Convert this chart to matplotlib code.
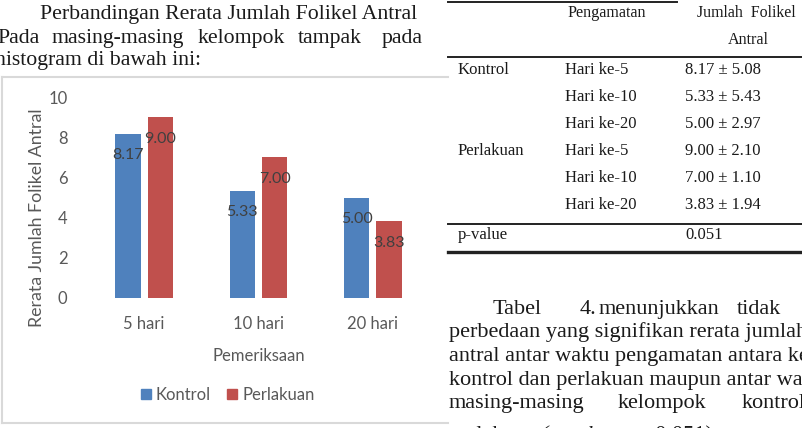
import numpy as np
import matplotlib.pyplot as plt
from matplotlib.lines import Line2D
from matplotlib.patches import Patch

# -------------------------------
# Data
# -------------------------------
categories = ["5 hari", "10 hari", "20 hari"]
kontrol = [8.17, 5.33, 5.00]
perlakuan = [9.00, 7.00, 3.83]
y_ticks = [0, 2, 4, 6, 8, 10]

tbl_group = ["Kontrol", "", "", "Perlakuan", "", ""]
tbl_day = ["Hari ke-5", "Hari ke-10", "Hari ke-20", "Hari ke-5", "Hari ke-10", "Hari ke-20"]
tbl_value = ["8.17 ± 5.08", "5.33 ± 5.43", "5.00 ± 2.97",
             "9.00 ± 2.10", "7.00 ± 1.10", "3.83 ± 1.94"]
p_value = "0.051"

BLUE = "#4F81BD"
RED = "#C0504D"
GRAY = "#595959"
INK = "#1a1a1a"
W, H = 803, 428

SERIF = "Liberation Serif"
SANS = "Lato"


def px(x, y):
    # page pixel -> figure fraction
    return x / W, 1 - y / H


fig = plt.figure(figsize=(W / 100, H / 100), dpi=100)


def page_text(x, y, s, size=15.7, **kw):
    kw.setdefault("family", SERIF)
    kw.setdefault("color", INK)
    fig.text(*px(x, y), s, fontsize=size, va="baseline", **kw)


def page_line(x0, x1, y0, y1, lw=1.4, color="#222222"):
    a, b = px(x0, y0)
    c, d = px(x1, y1)
    fig.add_artist(Line2D([a, c], [b, d], lw=lw, color=color, transform=fig.transFigure))


# -------------------------------
# Chart
# -------------------------------
ax = fig.add_axes([87 / W, 1 - 298 / H, 343 / W, 201 / H])
x = np.arange(len(categories))
bw = 0.22
off = 0.142
b1 = ax.bar(x - off, kontrol, bw, color=BLUE, label="Kontrol")
b2 = ax.bar(x + off, perlakuan, bw, color=RED, label="Perlakuan")

for bars, vals in [(b1, kontrol), (b2, perlakuan)]:
    for rect, v in zip(bars, vals):
        ax.annotate(f"{v:.2f}", (rect.get_x() + rect.get_width() / 2, v),
                    xytext=(0, -15.5), textcoords="offset points",
                    ha="center", va="center", fontsize=11.5,
                    family=SANS, color="#404040")

ax.set_xlim(-0.5, 2.5)
ax.set_ylim(0, 10)
ax.set_yticks(y_ticks)
ax.set_xticks(x)
ax.set_xticklabels(categories)
for s in ax.spines.values():
    s.set_visible(False)
ax.tick_params(length=0, labelsize=12, labelcolor=GRAY)
ax.tick_params(axis="x", pad=13)
ax.tick_params(axis="y", pad=14)
for lab in ax.get_xticklabels() + ax.get_yticklabels():
    lab.set_family(SANS)

ax.set_ylabel("Rerata Jumlah Folikel Antral", fontsize=12.8, color=GRAY,
              family=SANS, va="center")
ax.yaxis.set_label_coords(-0.146, 0.40)
ax.set_xlabel("Pemeriksaan", fontsize=12, color=GRAY, family=SANS, va="center")
ax.xaxis.set_label_coords(0.5, -0.289)

handles = [Patch(color=BLUE), Patch(color=RED)]
ax.legend(handles, ["Kontrol", "Perlakuan"], loc="center", bbox_to_anchor=(0.41, -0.483),
          ncol=2, frameon=False, handlelength=0.6, handleheight=0.6,
          handletextpad=0.3, columnspacing=1.0,
          prop={"family": SANS, "size": 12}, labelcolor=GRAY)

# chart frame
page_line(2, 448, 77, 77, lw=1.5, color="#d9d9d9")
page_line(2, 448, 423, 423, lw=1.5, color="#d9d9d9")
page_line(2, 2, 77, 423, lw=1.5, color="#d9d9d9")

# -------------------------------
# Page text (left)
# -------------------------------
page_text(40, 19, "Perbandingan Rerata Jumlah Folikel Antral")
for wx, w in [(-3, "Pada"), (52, "masing-masing"), (198, "kelompok"),
              (298, "tampak"), (382, "pada")]:
    page_text(wx, 43, w)
page_text(-5, 65, "histogram di bawah ini:")

# -------------------------------
# Table (right)
# -------------------------------
page_line(448, 677, 2, 2)
page_line(448, 803, 57, 57)
page_line(448, 803, 224, 224)
page_line(448, 803, 252, 252, lw=2.4)

page_text(607, 17, "Pengamatan", size=11.6, ha="center")
page_text(697, 17, "Jumlah  Folikel", size=11.4)
page_text(748, 44, "Antral", size=11.6, ha="center")

row_y = [74, 101, 128, 155, 182, 209]
for ry, g, d, v in zip(row_y, tbl_group, tbl_day, tbl_value):
    page_text(458, ry, g, size=12)
    page_text(565, ry, d, size=12)
    page_text(685, ry, v, size=12)
page_text(458, 239, "p-value", size=12)
page_text(685, 239, p_value, size=12)

# -------------------------------
# Page text (right)
# -------------------------------
for wx, w in [(493, "Tabel"), (580, "4."), (599, "menunjukkan"), (737, "tidak")]:
    page_text(wx, 314, w, size=16)
page_text(449, 337.5, "perbedaan yang signifikan rerata jumlah", size=16)
page_text(449, 361, "antral antar waktu pengamatan antara ke", size=16)
page_text(449, 384.5, "kontrol dan perlakuan maupun antar wak", size=16)
for wx, w in [(449, "masing-masing"), (618, "kelompok"), (742, "kontrol")]:
    page_text(wx, 408, w, size=16)
page_text(449, 440, "perlakuan", size=16)
page_text(540, 440, "(p-value", size=16, style="italic")
page_text(637, 440, "= 0.051).", size=16)

fig.savefig("out.png", dpi=100)
